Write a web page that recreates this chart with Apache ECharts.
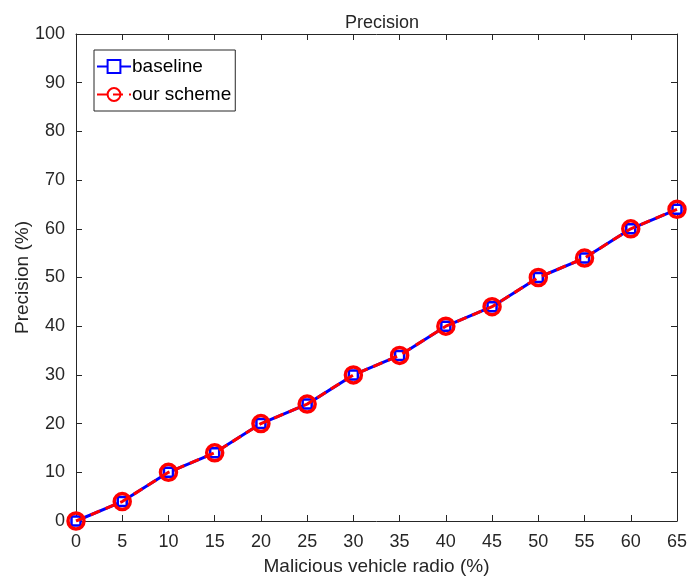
<!DOCTYPE html>
<html>
<head>
<meta charset="utf-8">
<script src="https://cdn.jsdelivr.net/npm/echarts@6/dist/echarts.min.js"></script>
<style>
  html, body { margin: 0; padding: 0; background: #fff; }
  #chart { width: 689px; height: 580px; }
</style>
</head>
<body>
<div id="chart"></div>
<script>
// 横轴：恶意车辆比例
var ratios = [0, 5, 10, 15, 20, 25, 30, 35, 40, 45, 50, 55, 60, 65];
// 两条曲线数值几乎重合
var baseline = [0, 4, 10, 14, 20, 24, 30, 34, 40, 44, 50, 54, 60, 64];
var ourScheme = [0, 4, 10, 14, 20, 24, 30, 34, 40, 44, 50, 54, 60, 64];

function pairs(xs, ys) {
  var out = [];
  for (var i = 0; i < xs.length; i++) out.push([xs[i], ys[i]]);
  return out;
}

var txt = '#262626';
var font = 'Liberation Sans, Arial, Helvetica, sans-serif';

var chart = echarts.init(document.getElementById('chart'));

// 主坐标轴 + 上/右边框坐标轴（仿 MATLAB box on）
function boxAxis(pos, isX, showLabel) {
  return {
    type: 'value',
    position: pos,
    min: 0,
    max: isX ? 65 : 100,
    interval: isX ? 5 : 10,
    axisLine: { show: true, onZero: false, lineStyle: { color: txt, width: 1 } },
    axisTick: { show: true, inside: true, length: 6, lineStyle: { color: txt } },
    axisLabel: { show: showLabel, color: txt, fontSize: 18, fontFamily: font, margin: isX ? 12 : 11 },
    splitLine: { show: false }
  };
}

var xMain = boxAxis('bottom', true, true);
xMain.name = 'Malicious vehicle radio (%)';
xMain.nameLocation = 'middle';
xMain.nameGap = 36;
xMain.nameMoveOverlap = false;
xMain.nameTextStyle = { color: txt, fontSize: 19, fontFamily: font };

var yMain = boxAxis('left', false, true);
yMain.name = 'Precision (%)';
yMain.nameLocation = 'middle';
yMain.nameGap = 44;
yMain.nameMoveOverlap = false;
yMain.nameTextStyle = { color: txt, fontSize: 19, fontFamily: font };

var option = {
  backgroundColor: '#fff',
  animation: false,
  title: {
    text: 'Precision',
    left: 377,
    textAlign: 'center',
    top: 9,
    textStyle: { color: txt, fontSize: 18, fontWeight: 'normal', fontFamily: font }
  },
  legend: {
    orient: 'vertical',
    left: 94,
    top: 50,
    padding: [7, 4, 7, 2],
    itemGap: 9,
    itemWidth: 34,
    itemHeight: 16,
    borderColor: txt,
    borderWidth: 1,
    backgroundColor: '#fff',
    textStyle: { color: '#000', fontSize: 19, fontFamily: font, padding: [0, 0, 0, -4] },
    data: ['baseline', 'our scheme']
  },
  grid: { left: 76, right: 12, top: 34, bottom: 59, containLabel: false, outerBoundsMode: 'none' },
  xAxis: [xMain, boxAxis('top', true, false)],
  yAxis: [yMain, boxAxis('right', false, false)],
  series: [
    {
      name: 'baseline',
      type: 'line',
      data: pairs(ratios, baseline),
      symbol: 'rect',
      symbolSize: 9,
      lineStyle: { color: '#0000ff', width: 3 },
      itemStyle: { color: '#fff', borderColor: '#0000ff', borderWidth: 2.5 },
      z: 2
    },
    {
      name: 'our scheme',
      type: 'line',
      data: pairs(ratios, ourScheme),
      symbol: 'circle',
      symbolSize: 16,
      lineStyle: { color: '#ff0000', width: 3, type: [10, 6] },
      itemStyle: { color: 'transparent', borderColor: '#ff0000', borderWidth: 3.5 },
      z: 3
    }
  ]
};

chart.setOption(option);
</script>
</body>
</html>
